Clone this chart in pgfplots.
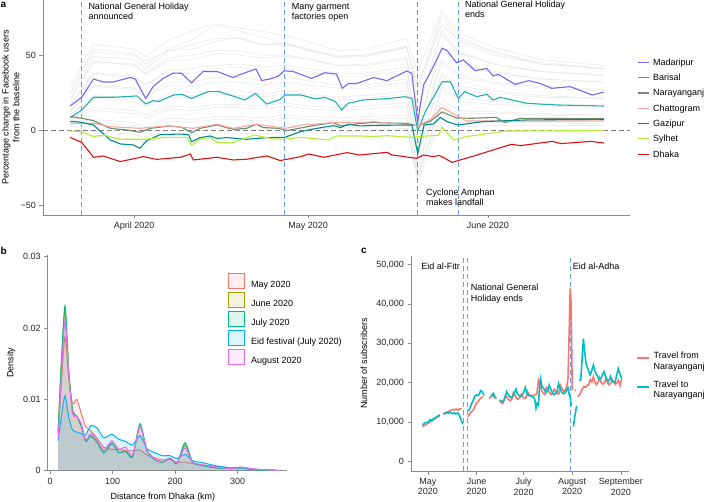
\documentclass[border=0pt]{standalone}
\usepackage{fontspec}
\setmainfont{Liberation Sans}
\usepackage{pgfplots}
\pgfplotsset{compat=1.18}
\usepackage{pgfplotstable}

\definecolor{cMad}{HTML}{7B68EE}
\definecolor{cBar}{HTML}{20B2AA}
\definecolor{cNar}{HTML}{6B8E6B}
\definecolor{cCha}{HTML}{F4A6A0}
\definecolor{cGaz}{HTML}{008B8B}
\definecolor{cSyl}{HTML}{B3EE3A}
\definecolor{cDha}{HTML}{DD1111}
\definecolor{cVline}{HTML}{6E9CF0}
\definecolor{cCyc}{HTML}{8C8C8C}
\definecolor{cAxis}{HTML}{8C8C8C}
\definecolor{cGrid}{HTML}{E6E6E6}
\definecolor{hMay}{HTML}{F8766D}
\definecolor{hJun}{HTML}{A3A500}
\definecolor{hJul}{HTML}{00BF7D}
\definecolor{hEid}{HTML}{00B0F6}
\definecolor{hAug}{HTML}{E76BF3}
\definecolor{hTo}{HTML}{00BFC4}

\newcommand{\fs}{\fontsize{9bp}{10.7bp}\selectfont}
\newcommand{\twoline}[2]{$\vcenter{\baselineskip=0pt\lineskip=0pt\lineskiplimit=0pt\hbox{\strut #1}\hbox{\strut #2}}$}

\pgfplotstableread{
d    g1 g2 g3 g4 g5 g6 g7 g8 g9 g10 g11 g12 g13 g14 g15 g16 g17 g18
-11  28 25 20 21 17 16 13 12 10 10  8   8   5   4   3   0   30  24
-7   52 54 46 45 38 37 30 29 23 21  15  13  7   5   -1  -4  57  49
0    50 51 43 44 36 35 28 27 21 19  13  11  5   3   -3  -6  54  47
2    44 46 38 37 30 30 23 22 16 15  10  8   2   0   -5  -9  49  41
6    54 53 48 46 40 38 32 30 24 22  16  14  8   6   0   -3  60  53
10   60 57 50 47 41 38 32 29 23 21  15  13  7   5   -1  -4  66  54
14   70 61 53 51 43 41 35 32 26 24  17  15  9   7   1   -2  71  59
18   66 61 53 50 44 42 35 32 26 23  17  15  9   7   1   -2  68  62
22   62 57 50 48 42 39 33 30 24 22  16  14  8   6   0   -3  66  57
26   58 57 50 49 43 41 35 32 26 24  18  16  10  8   2   -1  63  58
30   54 53 48 47 41 39 33 30 24 22  16  14  9   7   1   -2  59  53
35   48 49 43 43 38 36 30 28 22 20  15  13  8   6   1   -2  53  50
40   50 50 44 43 38 36 30 28 23 21  16  14  9   7   2   0   54  49
47   56 55 48 47 42 40 34 32 26 24  18  16  10  8   3   1   61  55
48.9 28 24 14 12 2  0  -9 -10 -17 -18 -25 -26 -32 -30 -31 -35 38 30
53   78 75 66 64 56 55 47 45 38 36  29  27  20  17  11  8   80  70
56   62 59 52 51 44 43 37 35 29 27  21  19  13  11  5   2   65  60
62   52 50 44 44 39 38 32 31 26 24  19  17  12  11  5   3   55  52
70   45 44 39 39 34 34 29 28 23 22  17  16  11  10  5   3   47  44
81   41 41 37 36 32 32 27 26 21 21  16  15  10  9   4   3   43  41
}\grayTable

\pgfplotsset{
  panel/.style={
    scale only axis, anchor=south west,
    axis x line*=bottom, axis y line*=left,
    axis line style={draw=cAxis, line width=0.6bp},
    tick style={draw=cAxis, line width=0.6bp},
    tick align=outside, major tick length=3.5bp,
    scaled x ticks=false, scaled y ticks=false,
    font=\fs,
    tick label style={font=\fs, text=black!85},
    label style={font=\fs},
    /pgf/number format/assume math mode=true,
    legend cell align=left,
  },
  vline/.style={draw=#1, color=#1, line width=1bp, dash pattern=on 5bp off 3bp, forget plot},
  vline/.default=cVline,
  densfill/.style={draw=none, fill=#1, fill opacity=0.13, smooth, tension=0.4, forget plot},
  densline/.style={#1, line width=1bp, smooth, tension=0.4,
    legend image code/.code={\draw[line width=1bp, draw=#1, fill=#1, fill opacity=0.13] (0bp,-4.2bp) rectangle (16bp,10.6bp);}},
}

\begin{document}
\begin{tikzpicture}
\path[use as bounding box] (0,0) rectangle (704bp,502bp);

% ---------------- panel a ----------------
\begin{axis}[panel, at={(43bp,287bp)}, width=587bp, height=215bp,
  xmin=-15.7, xmax=85.5, ymin=-56.7, ymax=86.7,
  xtick={0,30,61}, xticklabels={April 2020,May 2020,June 2020},
  ytick={-50,0,50}, yticklabels={−50,0,50},
  ylabel={Percentage change in Facebook users\\from the baseline},
  ylabel style={align=center, at={(axis description cs:-0.0548,0.5)}, anchor=center},
  legend style={at={(axis description cs:1.0131,0.7305)}, anchor=north west,
    draw=none, fill=none, inner sep=0pt, outer sep=0pt, row sep=6.3bp, font=\fs,
    nodes={inner sep=0pt},
    /tikz/every odd column/.append style={column sep=3.8bp}},
  legend image code/.code={\draw[#1] (0bp,0bp) -- (10.6bp,0bp);},
]
\pgfplotsinvokeforeach{1,...,18}{
  \addplot[cGrid, line width=0.5bp, forget plot] table[x=d, y=g#1] {\grayTable};
}
\addplot[black!50, line width=0.7bp, dash pattern=on 5bp off 3bp, forget plot] coordinates {(-15.7,0) (85.5,0)};
\addplot[vline=cVline] coordinates {(-9,-56.7) (-9,86.7)};
\addplot[vline=cVline] coordinates {(25.9,-56.7) (25.9,86.7)};
\addplot[vline=cCyc] coordinates {(48.9,-56.7) (48.9,86.7)};
\addplot[vline=cVline] coordinates {(55.9,-56.7) (55.9,86.7)};

\addplot[cMad, line width=1.1bp] coordinates {(-11,16) (-9,22) (-7,34) (-5.3,32) (-3.6,32) (-0.7,35) (0.2,34) (2,21) (3.3,29) (5,34.4) (6.8,38) (8.2,37.8) (9.9,31.5) (11.9,39) (14.3,39) (17.1,35) (18.3,37) (21,40.7) (22,33) (23.4,34) (24.9,36) (25.9,39.5) (27.5,38.9) (30.6,34.4) (32.9,38.2) (34.9,37.3) (35.9,27.8) (37,31) (38.4,31) (41.3,35) (43.6,32.9) (47,39.3) (47.9,37.8) (48.9,5) (49.9,30) (51.3,40) (53.1,54.4) (53.9,53.3) (55.6,44.9) (56.8,46.7) (58.8,39.6) (60.8,41) (61.9,36) (62.8,37.1) (65.7,30.4) (68,32.9) (70,31.1) (72,27.8) (75.2,28.9) (79,23.3) (81,25.3)};
\addlegendentry{\strut Madaripur}
\addplot[cBar, line width=1.1bp] coordinates {(-11,8.4) (-9,13.3) (-7,21.8) (-3.6,21.8) (0.5,22.7) (2,17.3) (3.3,19.6) (4.2,19) (6.8,23.3) (8.2,23.8) (9.9,21.1) (12.8,25.6) (14.6,25.6) (17.4,22.2) (19.1,20) (20.9,24.4) (22.9,17.3) (25.2,20.4) (26,23.3) (28.9,23.3) (31.2,20.7) (32.9,21.8) (34.7,18.9) (35.8,13.3) (36.9,17.8) (39.5,20) (43.6,20.9) (46.7,22.2) (47.9,21.1) (48.9,-1) (50.2,12.2) (53.1,32.2) (54.5,32.2) (55.9,21.1) (57,25.6) (59.1,22.2) (60.8,23.8) (61.9,20) (63.1,21.8) (67.7,17.8) (72.8,16.7) (81,16)};
\addlegendentry{\strut Barisal}
\addplot[cNar, line width=1.1bp] coordinates {(-11,8.9) (-9,7.8) (-7,6.2) (-4.1,1.1) (-1.2,0) (1,-1.6) (2.8,1.1) (6.2,2.7) (8.2,1.8) (9.9,-1.8) (11.4,1.1) (14.3,3.3) (17.1,0.4) (19.4,1.1) (21.1,3.8) (22.3,1.6) (24.9,1.1) (26.3,-0.4) (31.5,3.3) (34.4,4.9) (35.6,2.7) (39,4.4) (41.3,4.9) (47,4.4) (48.9,2.7) (51,5.6) (53.1,12) (55.6,8) (58.3,7.8) (62.4,8.4) (63.9,4.9) (66.6,7.8) (81,7.5)};
\addlegendentry{\strut Narayanganj}
\addplot[cCha, line width=1.1bp] coordinates {(-11,4.4) (-7,4.4) (-4.1,2.2) (1,1.1) (5.7,2.7) (10.2,1.1) (14.3,3.8) (17.1,1.1) (21.1,3.8) (26.1,1.1) (29,3.3) (34.4,4.9) (39,4.9) (41.3,5.6) (47.9,3.3) (48.9,2.7) (51,6.7) (53.1,15) (55.9,9) (57.3,6) (64.2,6) (81,6)};
\addlegendentry{\strut Chattogram}
\addplot[cGaz, line width=1.1bp] coordinates {(-11,5.8) (-9,5.1) (-7,3.3) (-4.1,-6.7) (-2.4,-9.3) (-0.1,-10) (1,-12.2) (2.2,-7.1) (4.5,-3.1) (8,-2.7) (9.4,-3.1) (9.9,-7.8) (11.4,-5.1) (13.1,-4) (14.3,-5.6) (16,-5.1) (19.4,-6.2) (22.9,-5.1) (26,-4.9) (28.7,-1.1) (31.5,1.1) (34.4,2.9) (35.6,1.6) (36.9,3.8) (39,2.7) (41.3,3.1) (47.9,3.3) (48.9,-15.6) (50,3.3) (51.6,4) (52.8,8.4) (53.9,5.6) (55.9,3.3) (60.2,5.6) (67.7,6.7) (81,7.1)};
\addlegendentry{\strut Gazipur}
\addplot[cSyl, line width=1.1bp] coordinates {(-11,-0.7) (-9,-1.1) (-7,-4.4) (-5.3,-3.3) (-2.4,-6.2) (1.6,-6.2) (5.7,-4.9) (9.1,-4.9) (9.9,-10) (11.4,-6.2) (13.1,-4.9) (14.3,-8.4) (17.1,-8.4) (20.7,-3.3) (23.7,-5.8) (25.9,-6.2) (28.7,-4.9) (33.5,-6.7) (34.9,-4) (39,-4) (41.3,-4.4) (43.6,-3.8) (47.9,-4.9) (48.9,-4.4) (52.5,-3.5) (53.1,1.8) (55.1,-6.7) (57.3,-4.4) (64.2,-0.7) (81,-0.4)};
\addlegendentry{\strut Sylhet}
\addplot[cDha, line width=1.1bp] coordinates {(-11,-4.9) (-9,-8.4) (-7,-18.2) (-5.3,-17.3) (-2.4,-21.1) (1.6,-17.8) (3.9,-19.6) (8,-18.2) (9.7,-16) (10.2,-20) (14.3,-18.2) (17.1,-20) (19.4,-19.5) (22.9,-17.3) (25.2,-20.4) (28.7,-17.8) (30.1,-16) (32.7,-18.2) (36.7,-15.1) (38.9,-16.7) (43.6,-14.9) (44.5,-16.7) (48.7,-18.9) (49.9,-16.7) (51.6,-17.8) (52.6,-17) (53.4,-18.5) (54.8,-21.6) (58.6,-17.3) (65,-9.6) (66.7,-10.4) (72.1,-7.6) (73.6,-9.1) (78.7,-7.6) (81,-8.7)};
\addlegendentry{\strut Dhaka}
\end{axis}

% ---------------- panel b ----------------
\begin{axis}[panel, at={(47.7bp,31.3bp)}, width=239bp, height=215.6bp,
  xmin=-3.7, xmax=378.7, ymin=0, ymax=0.0302,
  xtick={0,100,200,300}, xticklabels={0,100,200,300},
  ytick={0,0.01,0.02,0.03}, yticklabels={0,0.01,0.02,0.03},
  xlabel={Distance from Dhaka (km)}, ylabel={Density},
  xlabel style={at={(axis description cs:0.4824,-0.1206)}, anchor=center},
  ylabel style={at={(axis description cs:-0.1536,0.5)}, anchor=center},
  legend style={at={(axis description cs:0.7544,0.9174)}, anchor=north west,
    draw=none, fill=none, inner sep=0pt, outer sep=0pt, row sep=3.2bp, font=\fs,
    nodes={inner sep=0pt},
    /tikz/every odd column/.append style={column sep=6bp}},
]
\addplot[densfill=hMay] coordinates {(13,0.0052) (18,0.012) (24,0.0188) (30,0.013) (36,0.0094) (43,0.0100) (50,0.0080) (57,0.0062) (65,0.0056) (75,0.0046) (86,0.0033) (99,0.0030) (110,0.0030) (121,0.0028) (132,0.0028) (144,0.0029) (155,0.0022) (168,0.0018) (180,0.0015) (192,0.0016) (203,0.0012) (216,0.0012) (228,0.0010) (245,0.0008) (265,0.0006) (290,0.0004) (305,0.0005) (330,0.0002) (363,0.00005)} \closedcycle;
\addplot[densline=hMay] coordinates {(13,0.0052) (18,0.012) (24,0.0188) (30,0.013) (36,0.0094) (43,0.0100) (50,0.0080) (57,0.0062) (65,0.0056) (75,0.0046) (86,0.0033) (99,0.0030) (110,0.0030) (121,0.0028) (132,0.0028) (144,0.0029) (155,0.0022) (168,0.0018) (180,0.0015) (192,0.0016) (203,0.0012) (216,0.0012) (228,0.0010) (245,0.0008) (265,0.0006) (290,0.0004) (305,0.0005) (330,0.0002) (363,0.00005)};
\addlegendentry{\strut May 2020}
\addplot[densfill=hJun] coordinates {(13,0.0054) (18,0.0148) (24,0.0226) (30,0.0139) (36,0.0085) (43,0.0076) (50,0.0063) (57,0.0042) (65,0.0049) (75,0.0041) (86,0.0026) (99,0.0039) (110,0.0026) (121,0.0028) (132,0.0020) (144,0.0063) (155,0.0028) (168,0.0016) (180,0.0012) (192,0.0017) (203,0.0010) (216,0.0036) (228,0.0012) (245,0.0007) (265,0.0004) (290,0.0003) (305,0.0004) (330,0.0001) (363,0.00003)} \closedcycle;
\addplot[densline=hJun] coordinates {(13,0.0054) (18,0.0148) (24,0.0226) (30,0.0139) (36,0.0085) (43,0.0076) (50,0.0063) (57,0.0042) (65,0.0049) (75,0.0041) (86,0.0026) (99,0.0039) (110,0.0026) (121,0.0028) (132,0.0020) (144,0.0063) (155,0.0028) (168,0.0016) (180,0.0012) (192,0.0017) (203,0.0010) (216,0.0036) (228,0.0012) (245,0.0007) (265,0.0004) (290,0.0003) (305,0.0004) (330,0.0001) (363,0.00003)};
\addlegendentry{\strut June 2020}
\addplot[densfill=hJul] coordinates {(13,0.0055) (18,0.015) (24,0.0231) (30,0.014) (36,0.0085) (43,0.0076) (50,0.0062) (57,0.0041) (65,0.0048) (75,0.0040) (86,0.0025) (99,0.0038) (110,0.0025) (121,0.0027) (132,0.0019) (144,0.0066) (155,0.0028) (168,0.0015) (180,0.0012) (192,0.0017) (203,0.0010) (216,0.0039) (228,0.0012) (245,0.0007) (265,0.0004) (290,0.0003) (305,0.0004) (330,0.0001) (363,0.00003)} \closedcycle;
\addplot[densline=hJul] coordinates {(13,0.0055) (18,0.015) (24,0.0231) (30,0.014) (36,0.0085) (43,0.0076) (50,0.0062) (57,0.0041) (65,0.0048) (75,0.0040) (86,0.0025) (99,0.0038) (110,0.0025) (121,0.0027) (132,0.0019) (144,0.0066) (155,0.0028) (168,0.0015) (180,0.0012) (192,0.0017) (203,0.0010) (216,0.0039) (228,0.0012) (245,0.0007) (265,0.0004) (290,0.0003) (305,0.0004) (330,0.0001) (363,0.00003)};
\addlegendentry{\strut July 2020}
\addplot[densfill=hEid] coordinates {(13,0.0042) (18,0.0075) (24,0.0105) (30,0.0075) (36,0.0057) (43,0.0054) (50,0.0052) (57,0.0050) (65,0.0063) (75,0.0060) (86,0.0046) (99,0.0051) (110,0.0044) (121,0.0041) (132,0.0036) (144,0.0049) (155,0.0031) (168,0.0025) (180,0.0021) (192,0.0021) (203,0.0017) (216,0.0023) (228,0.0014) (245,0.0011) (265,0.0007) (290,0.0004) (305,0.0004) (330,0.0002) (363,0.00005)} \closedcycle;
\addplot[densline=hEid] coordinates {(13,0.0042) (18,0.0075) (24,0.0105) (30,0.0075) (36,0.0057) (43,0.0054) (50,0.0052) (57,0.0050) (65,0.0063) (75,0.0060) (86,0.0046) (99,0.0051) (110,0.0044) (121,0.0041) (132,0.0036) (144,0.0049) (155,0.0031) (168,0.0025) (180,0.0021) (192,0.0021) (203,0.0017) (216,0.0023) (228,0.0014) (245,0.0011) (265,0.0007) (290,0.0004) (305,0.0004) (330,0.0002) (363,0.00005)};
\addlegendentry{\strut Eid festival (July 2020)}
\addplot[densfill=hAug] coordinates {(13,0.0045) (18,0.013) (24,0.0210) (30,0.0135) (36,0.0080) (43,0.0076) (50,0.0066) (57,0.0043) (65,0.0052) (75,0.0043) (86,0.0029) (99,0.0042) (110,0.0030) (121,0.0033) (132,0.0022) (144,0.0062) (155,0.0029) (168,0.0016) (180,0.0013) (192,0.0018) (203,0.0011) (216,0.0032) (228,0.0012) (245,0.0008) (265,0.0005) (290,0.0003) (305,0.0005) (330,0.0002) (363,0.00004)} \closedcycle;
\addplot[densline=hAug] coordinates {(13,0.0045) (18,0.013) (24,0.0210) (30,0.0135) (36,0.0080) (43,0.0076) (50,0.0066) (57,0.0043) (65,0.0052) (75,0.0043) (86,0.0029) (99,0.0042) (110,0.0030) (121,0.0033) (132,0.0022) (144,0.0062) (155,0.0029) (168,0.0016) (180,0.0013) (192,0.0018) (203,0.0011) (216,0.0032) (228,0.0012) (245,0.0008) (265,0.0005) (290,0.0003) (305,0.0005) (330,0.0002) (363,0.00004)};
\addlegendentry{\strut August 2020}
\end{axis}

% ---------------- panel c ----------------
\begin{axis}[panel, at={(411bp,31bp)}, width=218.3bp, height=215bp,
  xmin=-10.8, xmax=128.4, ymin=-2468, ymax=52240,
  xtick={0,31,61,92,123},
  xticklabels={{May\\2020},{June\\2020},{July\\2020},{August\\2020},{September\\2020}},
  xticklabel style={align=center},
  ytick={0,10000,20000,30000,40000,50000},
  yticklabels={0,{10,000},{20,000},{30,000},{40,000},{50,000}},
  ylabel={Number of subscribers},
  ylabel style={at={(axis description cs:-0.2153,0.5)}, anchor=center},
  unbounded coords=jump,
  legend style={at={(axis description cs:1.0307,0.5581)}, anchor=north west,
    draw=none, fill=none, inner sep=0pt, outer sep=0pt, row sep=14.1bp, font=\fs,
    nodes={inner sep=0pt},
    /tikz/every odd column/.append style={column sep=4bp}},
  legend image code/.code={\draw[#1] (0bp,0bp) -- (12bp,0bp);},
]
\addplot[vline=cVline] coordinates {(22.7,-2468) (22.7,52240)};
\addplot[vline=cVline] coordinates {(25.3,-2468) (25.3,52240)};
\addplot[vline=cVline] coordinates {(91.0,-2468) (91.0,52240)};
\addplot[hMay, line width=1.6bp] coordinates {
(-3.5,8800)(-2,9200)(-1,9400)(0,9700)(1,9900)(2,10200)(3,10400)(4,10700)(5,11000)(6,11200)(7,11500)(7.7,11600)(8.5,nan)
(9.8,12000)(11,12300)(12,12500)(13,12700)(14,12800)(15,13000)(16,13200)(17,13100)(18,13300)(19,13000)(20,13300)(21.5,13400)(22.5,nan)
(25.7,11300)(26.5,12000)(27.5,12500)(28.9,13000)(30,14000)(31,14800)(32,15200)(33,15800)(34,16200)(35.3,16400)(36.2,nan)
(39,16000)(40,16300)(41,16800)(42,16500)(43,16000)(43.8,nan)
(45.5,15500)(46.5,15000)(47.5,14700)(48.5,15500)(49.5,16700)(50.5,16200)(51.5,15700)(52.5,15400)(53.5,15800)(54.5,17500)(55.5,16800)(56.5,16000)(57.5,15800)(58.5,16200)(59.5,17000)(60.5,16300)(61.5,16000)(62.5,16200)(63.5,17800)(64.5,17000)(65.5,16700)(66.5,16600)(67.5,16800)(68.5,17000)(69.5,17200)(70.5,20800)(71.5,19800)(72.5,18000)(73.5,17300)(74.5,17000)(75.5,18800)(76.5,18300)(77.5,17500)(78.5,17000)(79.5,17300)(80.5,18300)(81.5,17800)(82.5,17100)(83.5,17200)(84.5,19300)(85.5,18500)(86.5,17800)(87.5,18000)(88.5,19000)(89.3,21000)(90,32000)(90.7,44000)(91.3,40000)(92,18200)(92.6,nan)
(93.6,18200)(94.2,18000)(94.6,nan)
(95.5,16500)(96.5,16800)(97.5,17500)(98.5,18500)(99.5,19000)(100.5,18800)(101.5,19300)(102.5,19500)(103.5,20800)(104.5,20200)(105.5,21500)(106.5,20000)(107.5,19500)(108.5,20200)(109.5,21300)(110.5,20000)(111.5,19600)(112.5,20000)(113.5,21000)(114.5,20000)(115.5,19500)(116.5,19800)(117.5,20800)(118.5,20200)(119.5,19600)(120.5,20000)(121.5,20600)(122.5,19200)(123.5,20900)};
\addlegendentry{\twoline{Travel from}{Narayanganj}}
\addplot[hTo, line width=1.6bp] coordinates {
(-3.5,9300)(-2.5,9600)(-1.5,9900)(-0.5,9800)(0.5,10200)(1.5,10600)(2.5,10400)(3.5,10900)(4.5,11000)(5.5,11300)(6.5,11600)(7.7,11800)(8.5,nan)
(9.8,12200)(10.8,12100)(11.8,12400)(12.8,12200)(13.8,12500)(14.8,12300)(15.8,12100)(16.8,12400)(17.8,12000)(18.8,12300)(19.5,12100)(20.4,11300)(21.3,10400)(22.1,9400)(22.6,nan)
(25.7,12800)(26.7,13500)(27.7,14500)(28.9,15600)(29.9,16600)(30.9,16900)(31.9,16700)(32.9,17200)(33.6,18000)(34.4,17800)(35.2,17300)(35.8,16800)(36.3,nan)
(40.2,16400)(41,17000)(41.7,17300)(42.7,16500)(43.6,16000)(44.2,nan)
(45.9,15600)(47,15300)(48,15100)(49,16200)(50.2,17700)(51.2,16900)(52.3,16400)(53.3,16200)(54.3,16600)(55.2,17400)(56.1,18400)(57.1,17100)(58.1,16700)(59.1,16500)(60.1,16800)(61.1,17600)(62.1,18800)(63.1,17200)(64.1,16700)(65.1,16700)(66.1,16500)(67.1,16300)(68.1,15800)(68.9,13500)(69.6,14700)(70.4,14300)(71.2,19000)(71.9,21000)(72.6,19200)(73.6,18600)(74.6,18000)(75.6,17600)(76.6,18200)(77.3,19400)(78.3,18300)(79.3,17500)(80.3,16900)(81.3,17200)(82.3,17700)(83.3,19800)(84.3,18500)(85.3,17600)(86.3,17200)(87.3,17400)(88.3,18000)(89.3,18700)(90.1,17000)(90.7,16400)(91.4,14000)(91.8,nan)
(92.7,8800)(93.7,11500)(94.8,14100)(95.3,nan)
(96.3,20600)(97.4,20700)(98.3,26000)(99.1,31200)(99.9,28000)(100.8,24900)(101.6,24000)(102.5,23000)(103.4,22000)(104.4,23000)(105.5,24500)(106.5,23000)(107.6,22000)(108.6,21200)(109.7,20800)(110.6,21300)(111.5,22300)(112.3,22800)(113.2,21600)(114,21000)(114.9,20300)(115.7,20800)(116.5,21600)(117.3,20500)(118.2,20200)(119.3,20000)(120.4,22000)(121.4,23600)(122.3,22400)(123.2,21300)(123.6,21000)};
\addlegendentry{\twoline{Travel to}{Narayanganj}}
\end{axis}

% ---------------- annotations ----------------
\begin{scope}[every node/.style={inner sep=0pt, font=\fs, anchor=base west}]
\node at (88.3bp,492.7bp) {National General Holiday};
\node at (88.3bp,482bp) {announced};
\node at (291.7bp,492.7bp) {Many garment};
\node at (291.7bp,482bp) {factories open};
\node at (465bp,494.5bp) {National General Holiday};
\node at (465bp,484bp) {ends};
\node at (426bp,306.3bp) {Cyclone Amphan};
\node at (426bp,296.3bp) {makes landfall};
\node[anchor=base east] at (460bp,232.7bp) {Eid al-Fitr};
\node at (470.7bp,211.4bp) {National General};
\node at (470.7bp,200.4bp) {Holiday ends};
\node at (572.7bp,232.7bp) {Eid al-Adha};
\node[font=\fontsize{10bp}{12bp}\selectfont\bfseries] at (0.5bp,494bp) {a};
\node[font=\fontsize{10bp}{12bp}\selectfont\bfseries] at (0.5bp,247bp) {b};
\node[font=\fontsize{10bp}{12bp}\selectfont\bfseries] at (361bp,248bp) {c};
\end{scope}
\end{tikzpicture}
\end{document}
